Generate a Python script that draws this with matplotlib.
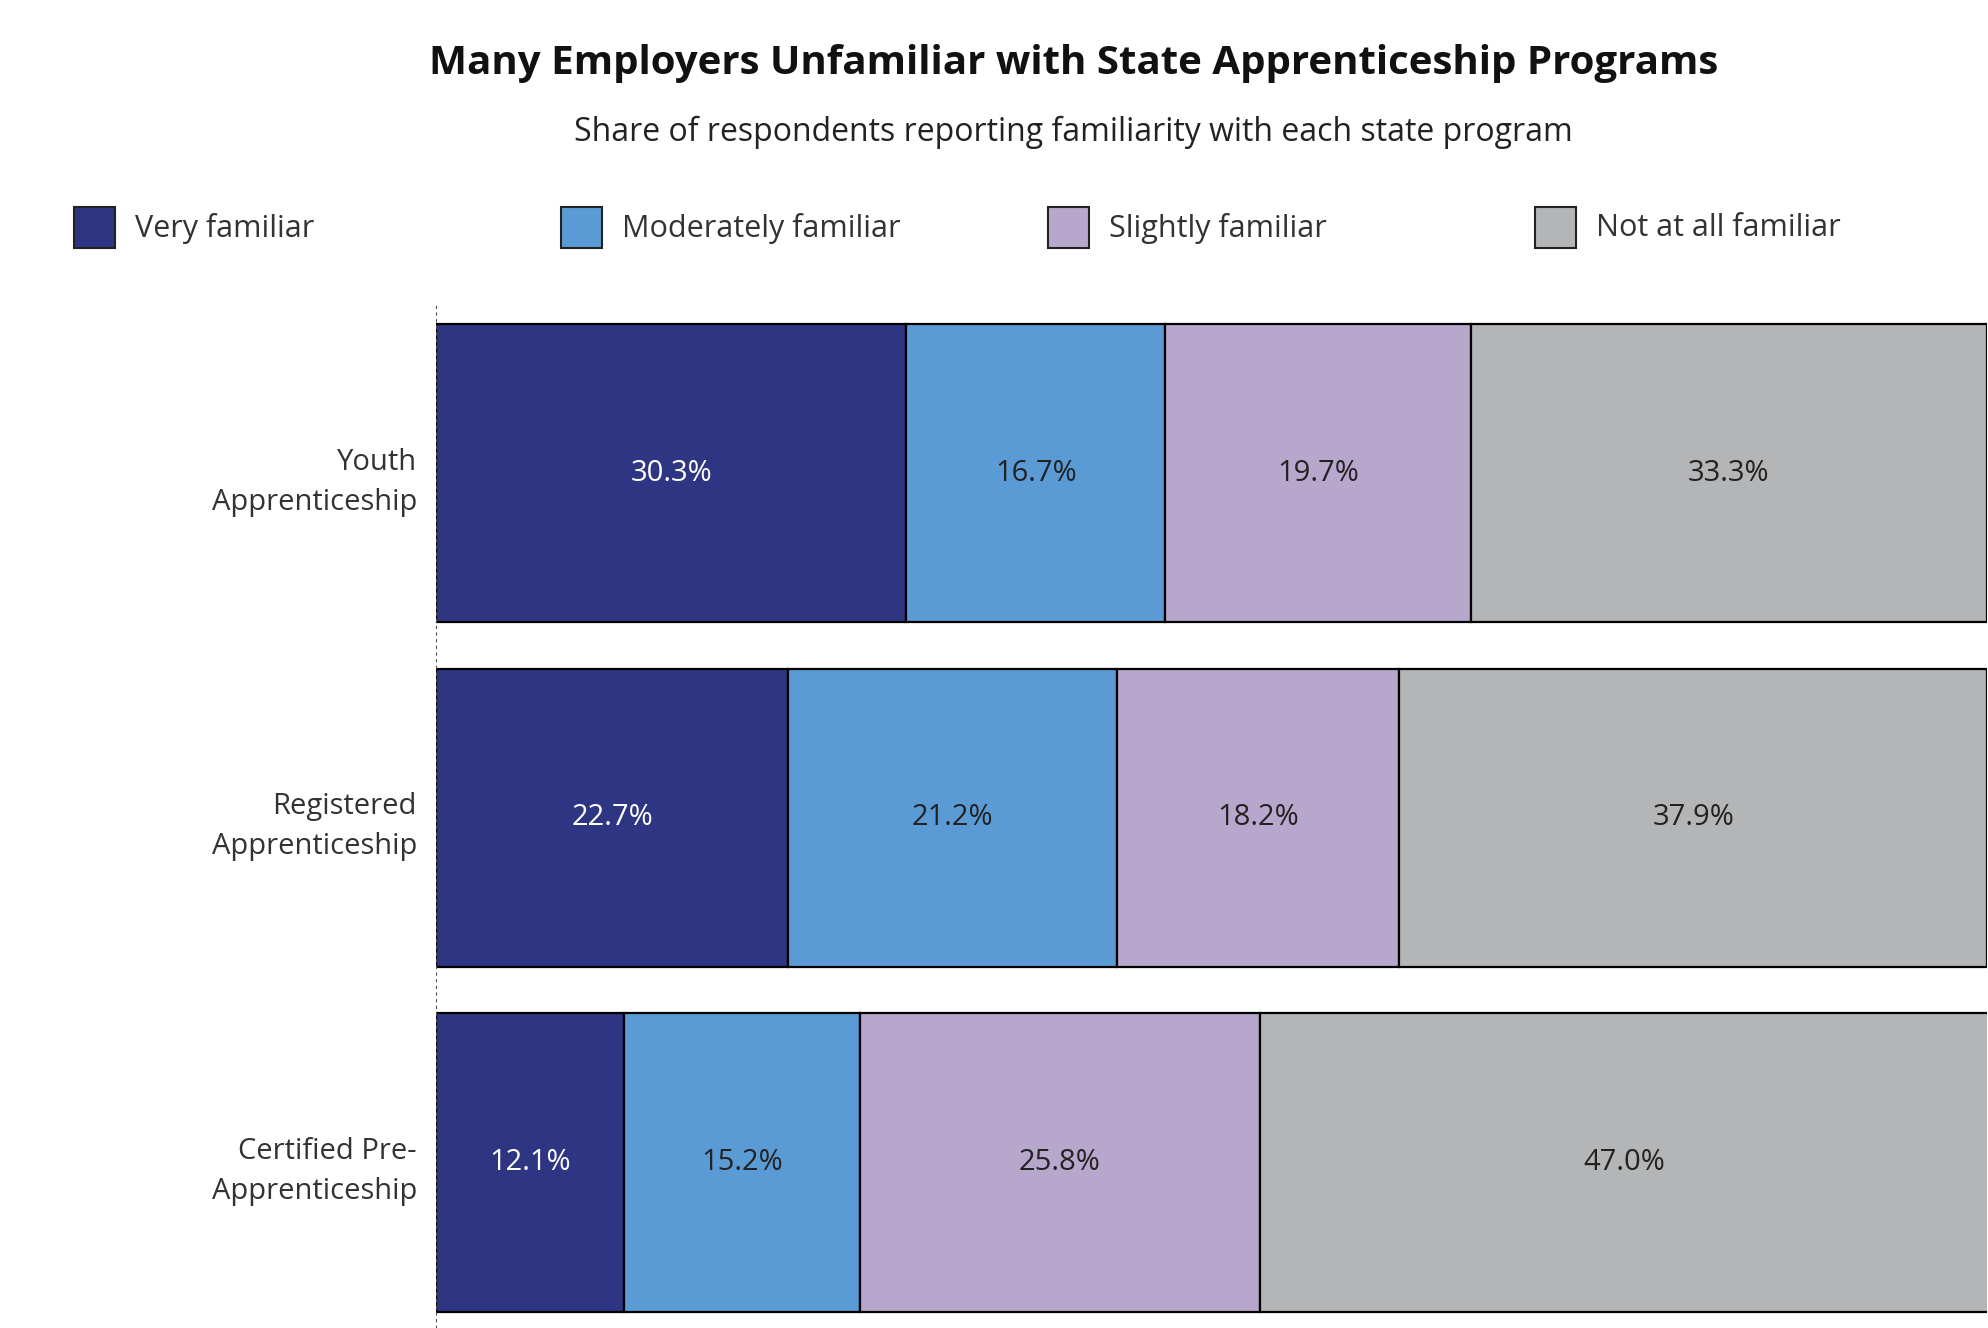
import matplotlib
matplotlib.use("Agg")
import matplotlib.pyplot as plt
from matplotlib.patches import Rectangle

plt.rcParams['font.family'] = ['Open Sans', 'DejaVu Sans']

programs = ["Youth\nApprenticeship", "Registered\nApprenticeship", "Certified Pre-\nApprenticeship"]
categories = ["Very familiar", "Moderately familiar", "Slightly familiar", "Not at all familiar"]
very = [30.3, 22.7, 12.1]
moderately = [16.7, 21.2, 15.2]
slightly = [19.7, 18.2, 25.8]
not_at_all = [33.3, 37.9, 47.0]
series = [very, moderately, slightly, not_at_all]
colors = ["#2e3583", "#5b9bd5", "#b8a7cc", "#b4b5b7"]
text_colors = ["white", "#222222", "#222222", "#222222"]

fig = plt.figure(figsize=(19.88, 13.28), dpi=100)
ax = fig.add_axes([0.2195, 0.0, 0.78, 0.771])

y = list(range(len(programs)))
left = [0.0] * len(programs)
for vals, c, tc in zip(series, colors, text_colors):
    ax.barh(y, vals, left=left, height=0.865, color=c, edgecolor="black", linewidth=1.6)
    for i, v in enumerate(vals):
        ax.text(left[i] + v / 2, i, f"{v:.1f}%", ha="center", va="center", color=tc, fontsize=21)
    left = [l + v for l, v in zip(left, vals)]

ax.set_xlim(0, 100)
ax.set_ylim(2.48, -0.49)
ax.set_yticks(y)
ax.set_yticklabels(programs, fontsize=21, color="#333333", ha="right", linespacing=1.5)
ax.tick_params(axis="y", length=0, pad=14)
ax.set_xticks([])
for s in ["top", "right", "bottom"]:
    ax.spines[s].set_visible(False)
ax.spines["left"].set_linestyle((0, (2, 4)))
ax.spines["left"].set_color("#555555")

fig.text(0.54, 0.952, "Many Employers Unfamiliar with State Apprenticeship Programs",
         ha="center", va="center", fontsize=29, fontweight="bold", color="#111111")
fig.text(0.54, 0.900, "Share of respondents reporting familiarity with each state program",
         ha="center", va="center", fontsize=23, color="#222222")

leg_x = [0.037, 0.282, 0.527, 0.772]
for xx, lab, c in zip(leg_x, categories, colors):
    fig.patches.append(Rectangle((xx, 0.813), 0.021, 0.031, transform=fig.transFigure,
                                 facecolor=c, edgecolor="#222222", linewidth=1.5))
    fig.text(xx + 0.031, 0.828, lab, ha="left", va="center", fontsize=22, color="#333333")

fig.savefig("out.png", dpi=100, facecolor="white")
